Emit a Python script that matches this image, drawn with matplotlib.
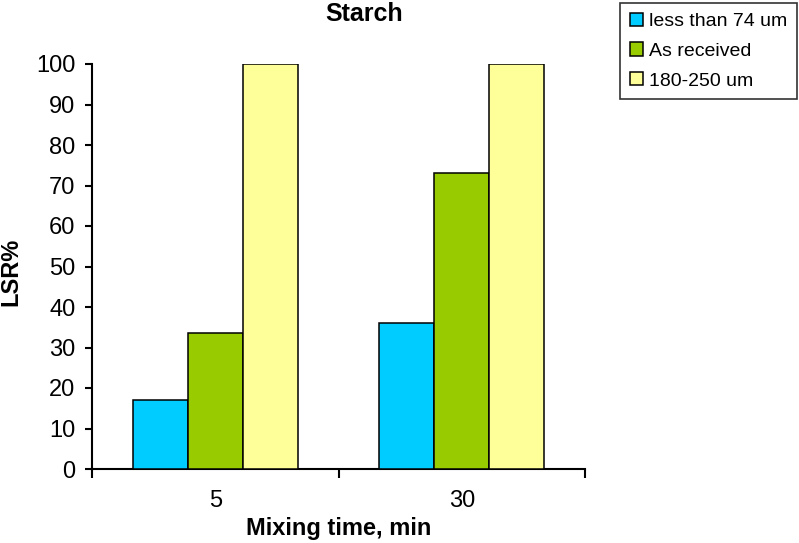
import matplotlib
matplotlib.use('Agg')
import matplotlib.pyplot as plt
import numpy as np

plt.rcParams['font.family'] = ['Liberation Sans', 'DejaVu Sans']

# data
times = ['5', '30']
series = ['less than 74 um', 'As received', '180-250 um']
less_74 = [17, 36]
as_received = [33.5, 73]
coarse = [100, 100]
colors = ['#00CCFF', '#99CC00', '#FFFF99']

fig = plt.figure(figsize=(7.99, 5.43), dpi=100)
ax = fig.add_axes([92 / 799, 74 / 543, (585 - 92) / 799, (469 - 64) / 543])

x = np.arange(len(times))
w = 0.223
for i, (vals, lab) in enumerate(zip([less_74, as_received, coarse], series)):
    ax.bar(x + (i - 1) * w, vals, w, color=colors[i], edgecolor='black',
           linewidth=1.1, label=lab, zorder=3)

ax.set_xlim(-0.5, len(times) - 0.5)
ax.set_ylim(0, 100)
ax.set_yticks(np.arange(0, 101, 10))
ax.set_xticks(x)
ax.set_xticklabels(times)
ax.set_xticks(np.arange(-0.5, len(times)), minor=True)

for s in ['top', 'right']:
    ax.spines[s].set_visible(False)
for s in ['left', 'bottom']:
    ax.spines[s].set_linewidth(1.5)

ax.tick_params(axis='y', direction='out', length=5, width=1.5, pad=7, labelsize=17)
ax.tick_params(axis='x', which='major', length=0, pad=15, labelsize=17)
ax.tick_params(axis='x', which='minor', direction='out', length=6.5, width=1.5)

ax.set_xlabel('Mixing time, min', fontsize=17, fontweight='bold', labelpad=4)
fig.text(11 / 799, 0.5, 'LSR%', rotation=90, fontsize=17, fontweight='bold',
         ha='center', va='center')
fig.text(364 / 799, 1 - 14 / 543, 'Starch', fontsize=18, fontweight='bold',
         ha='center', va='center')

leg = fig.legend(loc='upper right', bbox_to_anchor=(797 / 799, 1 - 3 / 543),
                 fontsize=14, frameon=True, fancybox=False, borderaxespad=0,
                 handlelength=0.67, handleheight=0.67, handletextpad=0.3,
                 labelspacing=0.63, borderpad=0.5)
leg.get_frame().set_edgecolor('black')
leg.get_frame().set_linewidth(1.2)

fig.savefig('out.png', dpi=100)
